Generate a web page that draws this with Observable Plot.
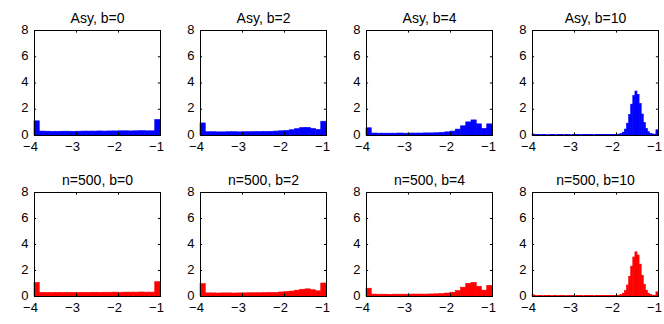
<!DOCTYPE html>
<html>
<head>
<meta charset="utf-8">
<script src="https://cdn.jsdelivr.net/npm/d3@7"></script>
<script src="https://cdn.jsdelivr.net/npm/@observablehq/plot@0.6"></script>
<style>
  body { margin: 0; background: #fff; }
  #grid { position: relative; width: 664px; height: 324px; overflow: hidden; }
  #grid > svg { position: absolute; }
</style>
</head>
<body>
<div id="grid"></div>
<script>
// Panel titles, row by row
const titles = [
  "Asy, b=0", "Asy, b=2", "Asy, b=4", "Asy, b=10",
  "n=500, b=0", "n=500, b=2", "n=500, b=4", "n=500, b=10"
];
const rowColors = ["#0000ff", "#ff0000"];

const xTicks = [-4, -3, -2, -1];
const yTicks = [0, 2, 4, 6, 8];
const xDomain = [-4, -1];
const yDomain = [0, 8];

// Density histograms, 24 bins over [-4, -1] (b = 0, 2, 4)
const asyB0 = [1.08, 0.30, 0.29, 0.28, 0.28, 0.29, 0.29, 0.28, 0.29, 0.30, 0.30, 0.30,
               0.31, 0.30, 0.31, 0.31, 0.32, 0.32, 0.31, 0.32, 0.33, 0.32, 0.32, 1.18];
const asyB2 = [0.92, 0.25, 0.25, 0.24, 0.24, 0.25, 0.25, 0.24, 0.25, 0.25, 0.26, 0.26,
               0.27, 0.28, 0.30, 0.32, 0.35, 0.40, 0.48, 0.57, 0.58, 0.50, 0.42, 1.05];
const asyB4 = [0.55, 0.15, 0.14, 0.14, 0.14, 0.14, 0.15, 0.14, 0.15, 0.15, 0.15, 0.16,
               0.16, 0.17, 0.20, 0.24, 0.30, 0.45, 0.70, 1.00, 1.15, 0.85, 0.50, 0.85];
const n500B0 = [1.05, 0.28, 0.27, 0.27, 0.28, 0.27, 0.28, 0.28, 0.27, 0.28, 0.28, 0.29,
                0.28, 0.29, 0.29, 0.30, 0.29, 0.30, 0.30, 0.30, 0.31, 0.30, 0.30, 1.10];
const n500B2 = [0.95, 0.24, 0.24, 0.23, 0.24, 0.24, 0.23, 0.24, 0.24, 0.25, 0.25, 0.25,
                0.26, 0.27, 0.28, 0.31, 0.34, 0.38, 0.45, 0.52, 0.55, 0.48, 0.40, 1.00];
const n500B4 = [0.60, 0.15, 0.14, 0.14, 0.13, 0.14, 0.14, 0.14, 0.15, 0.15, 0.15, 0.15,
                0.16, 0.17, 0.19, 0.23, 0.29, 0.42, 0.68, 0.98, 1.05, 0.75, 0.45, 0.82];

// Density histograms, 60 bins over [-4, -1] (b = 10)
const asyB10 = [0.08, 0.05,
  0.03, 0.03, 0.02, 0.03, 0.03, 0.02, 0.03, 0.03, 0.03, 0.02,
  0.03, 0.03, 0.03, 0.02, 0.03, 0.03, 0.02, 0.03, 0.03, 0.03,
  0.03, 0.02, 0.03, 0.03, 0.03, 0.03, 0.03, 0.02, 0.03, 0.03,
  0.03, 0.03, 0.03, 0.03, 0.03, 0.03, 0.03, 0.03,
  0.04, 0.07, 0.12, 0.22, 0.45, 0.90, 1.55, 2.35, 3.00, 3.35,
  3.10, 2.40, 1.60, 0.95, 0.50, 0.25, 0.13, 0.08, 0.06, 0.40];
const n500B10 = [0.10, 0.04,
  0.02, 0.03, 0.03, 0.02, 0.03, 0.03, 0.03, 0.02, 0.03, 0.03,
  0.02, 0.03, 0.03, 0.03, 0.02, 0.03, 0.03, 0.03, 0.02, 0.03,
  0.03, 0.03, 0.02, 0.03, 0.03, 0.03, 0.03, 0.02, 0.03, 0.03,
  0.03, 0.03, 0.03, 0.03, 0.03, 0.03, 0.04, 0.04,
  0.05, 0.07, 0.12, 0.22, 0.42, 0.85, 1.50, 2.30, 3.00, 3.40,
  3.15, 2.45, 1.60, 0.90, 0.45, 0.22, 0.12, 0.07, 0.05, 0.32];

const series = [asyB0, asyB2, asyB4, asyB10, n500B0, n500B2, n500B4, n500B10];

// Turn a list of bin heights into rectangles with equal-width bins over xDomain
function toBins(values) {
  const w = (xDomain[1] - xDomain[0]) / values.length;
  return values.map((y, i) => ({x1: xDomain[0] + i * w, x2: xDomain[0] + (i + 1) * w, y}));
}

const grid = document.getElementById("grid");
const font = "'Liberation Sans', Arial, Helvetica, sans-serif";
const intFormat = d3.format("d");

series.forEach((values, k) => {
  const row = Math.floor(k / 4), col = k % 4;
  const color = rowColors[row];
  const chart = Plot.plot({
    width: 166,
    height: 162,
    marginLeft: 34,
    marginRight: 6,
    marginTop: 30,
    marginBottom: row === 0 ? 27 : 28,
    style: {fontFamily: font, fontSize: "13px", color: "black", background: "transparent", overflow: "visible"},
    x: {domain: xDomain},
    y: {domain: yDomain},
    marks: [
      Plot.rectY(toBins(values), {
        x1: "x1", x2: "x2", y: "y",
        fill: color, stroke: color, strokeWidth: 0.6, inset: 0
      }),
      // inward tick marks on all four sides of the box
      Plot.ruleX(xTicks, {y1: 0, y2: 0.2, stroke: "black", strokeWidth: 1}),
      Plot.ruleX(xTicks, {y1: 7.8, y2: 8, stroke: "black", strokeWidth: 1}),
      Plot.ruleY(yTicks, {x1: -4, x2: -3.95, stroke: "black", strokeWidth: 1}),
      Plot.ruleY(yTicks, {x1: -1.05, x2: -1, stroke: "black", strokeWidth: 1}),
      Plot.frame({stroke: "black", strokeWidth: 1}),
      Plot.axisX({ticks: xTicks, tickFormat: intFormat, tickSize: 0, tickPadding: 6, dx: -4, fontSize: 13, label: null}),
      Plot.axisY({ticks: yTicks, tickFormat: intFormat, tickSize: 0, tickPadding: 6, dy: -1, fontSize: 13, label: null}),
      Plot.text([titles[k]], {frameAnchor: "top", dy: -17, fontSize: 14, fill: "black"})
    ]
  });
  chart.style.left = (col * 166) + "px";
  chart.style.top = (row * 162) + "px";
  grid.appendChild(chart);
});
</script>
</body>
</html>
